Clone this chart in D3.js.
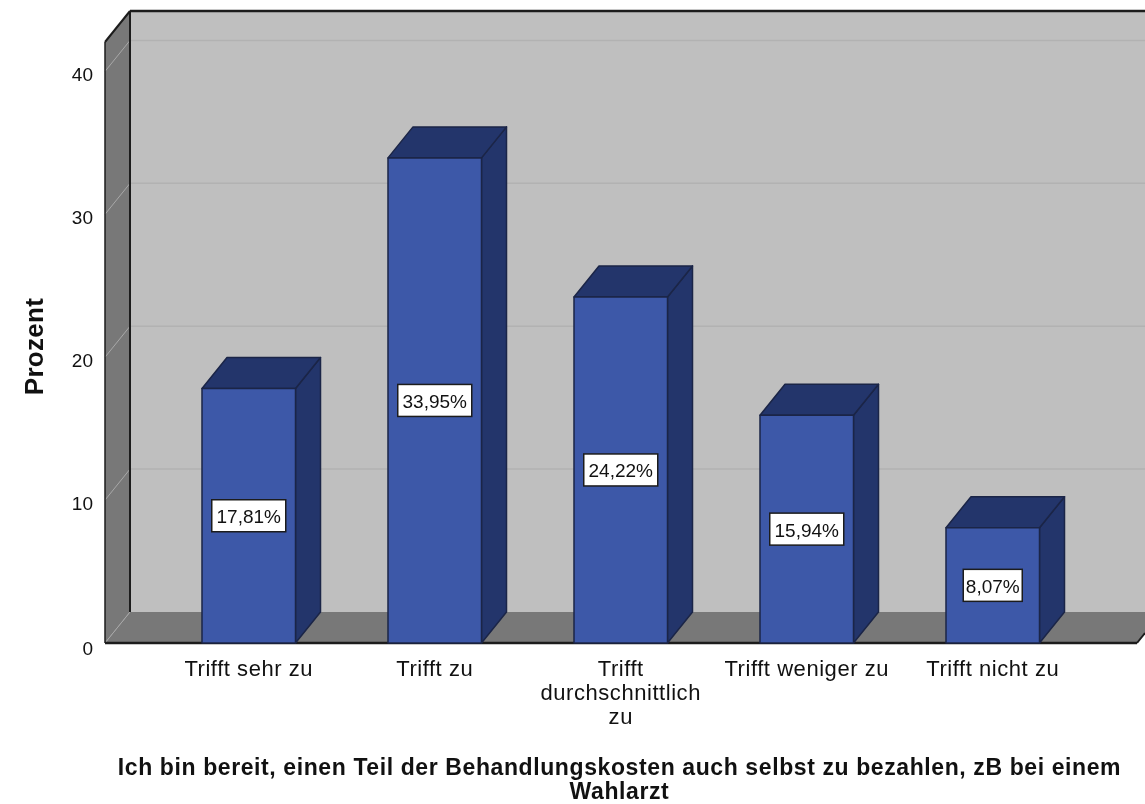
<!DOCTYPE html>
<html><head><meta charset="utf-8">
<script src="https://cdn.jsdelivr.net/npm/d3@7"></script>
<style>html,body{margin:0;padding:0;background:#fff;overflow:hidden}svg{display:block;filter:blur(0.45px)}text{font-family:"Liberation Sans",Arial,sans-serif;fill:#111}</style>
</head><body><svg id="c" width="1145" height="804"></svg>
<script>
const categories = ["Trifft sehr zu","Trifft zu","Trifft durchschnittlich zu","Trifft weniger zu","Trifft nicht zu"];
const categoryLines = [["Trifft sehr zu"],["Trifft zu"],["Trifft","durchschnittlich","zu"],["Trifft weniger zu"],["Trifft nicht zu"]];
const values = [17.81,33.95,24.22,15.94,8.07];
const valueLabels = ["17,81%","33,95%","24,22%","15,94%","8,07%"];
const yTicks = [0,10,20,30,40];
const yTitle = "Prozent";
const xTitleLines = ["Ich bin bereit, einen Teil der Behandlungskosten auch selbst zu bezahlen, zB bei einem","Wahlarzt"];

const svg = d3.select("#c");
const floorY = 643, topY = 42, dx = 25, dy = -31, leftX = 105, rightX = 1137;
const y = d3.scaleLinear().domain([0,42.06]).range([floorY,topY]);
const x = d3.scaleBand().domain(categories).range([155.75,1085.75]).paddingInner(0.4973).paddingOuter(0.24865);
const poly = (pts,fill,stroke,sw) => svg.append("polygon").attr("points",pts.map(p=>p.join(",")).join(" ")).attr("fill",fill).attr("stroke",stroke||"none").attr("stroke-width",sw||0).attr("stroke-linejoin","round");

// walls
poly([[leftX+dx,topY+dy],[1145,topY+dy],[1145,floorY+dy],[leftX+dx,floorY+dy]],"#bfbfbf");
poly([[leftX,topY],[leftX+dx,topY+dy],[leftX+dx,floorY+dy],[leftX,floorY]],"#787878");
poly([[leftX,floorY],[leftX+dx,floorY+dy],[1145,floorY+dy],[1145,633],[rightX,floorY]],"#787878");

// grid lines
yTicks.filter(t=>t>0).forEach(t=>{
  svg.append("line").attr("x1",leftX+dx).attr("x2",1145).attr("y1",y(t)+dy).attr("y2",y(t)+dy).attr("stroke","#b2b2b2").attr("stroke-width",1.5);
});
yTicks.forEach(t=>{
  svg.append("line").attr("x1",leftX).attr("x2",leftX+dx).attr("y1",y(t)).attr("y2",y(t)+dy).attr("stroke","#a8a8a8").attr("stroke-width",1);
});

// frame lines
const dark="#1c1c1c";
const ln=(a,b,w)=>svg.append("line").attr("x1",a[0]).attr("y1",a[1]).attr("x2",b[0]).attr("y2",b[1]).attr("stroke",dark).attr("stroke-width",w);
ln([leftX+dx,topY+dy],[1145,topY+dy],2.5);
ln([leftX+dx,topY+dy],[leftX+dx,floorY+dy],2);
ln([leftX,topY],[leftX+dx,topY+dy],2);
ln([leftX,topY],[leftX,floorY],1.5);
ln([leftX,floorY],[rightX,floorY],2.5);
ln([rightX,floorY],[1145,633],2);

// bars
const stroke="#1b2547";
values.forEach((v,i)=>{
  const c=categories[i], x0=x(c), x1=x0+x.bandwidth(), t=y(v), b=y(0);
  poly([[x1,t],[x1+dx,t+dy],[x1+dx,b+dy],[x1,b]],"#23356b",stroke,1.5);
  poly([[x0,t],[x0+dx,t+dy],[x1+dx,t+dy],[x1,t]],"#23356b",stroke,1.5);
  poly([[x0,t],[x1,t],[x1,b],[x0,b]],"#3d58a8",stroke,1.5);
});

// value labels
values.forEach((v,i)=>{
  const cx=x(categories[i])+x.bandwidth()/2, cy=(y(v)+y(0))/2;
  const w = valueLabels[i].length===6?74:59;
  svg.append("rect").attr("x",cx-w/2).attr("y",cy-16).attr("width",w).attr("height",32).attr("fill","#fff").attr("stroke","#1c1c1c").attr("stroke-width",1.5);
  svg.append("text").attr("x",cx).attr("y",cy+7.5).attr("text-anchor","middle").attr("font-size",19).text(valueLabels[i]);
});

// y axis
const yAxis = d3.axisLeft(y).tickValues(yTicks).tickSize(0).tickPadding(12).tickFormat(d3.format("d"));
const ga = svg.append("g").attr("transform",`translate(${leftX},0)`).call(yAxis);
ga.select(".domain").remove();
ga.selectAll("text").attr("font-size",19).attr("font-family",'"Liberation Sans",Arial,sans-serif').attr("fill","#111").attr("dy",null).each(function(d){d3.select(this).attr("y",d===0?11:9)});

svg.append("text").attr("transform","translate(43,346.5) rotate(-90)").attr("text-anchor","middle").attr("font-size",26).attr("font-weight","bold").attr("letter-spacing",0.3).text(yTitle);

// x labels
categoryLines.forEach((lines,i)=>{
  const cx=x(categories[i])+x.bandwidth()/2;
  lines.forEach((s,j)=>{
    svg.append("text").attr("x",cx).attr("y",676+j*24).attr("text-anchor","middle").attr("font-size",22).attr("letter-spacing",0.55).text(s);
  });
});

// x title
xTitleLines.forEach((s,j)=>{
  svg.append("text").attr("x",619.5).attr("y",775+j*24).attr("text-anchor","middle").attr("font-size",23).attr("font-weight","bold").attr("letter-spacing",0.6).text(s);
});
</script></body></html>
